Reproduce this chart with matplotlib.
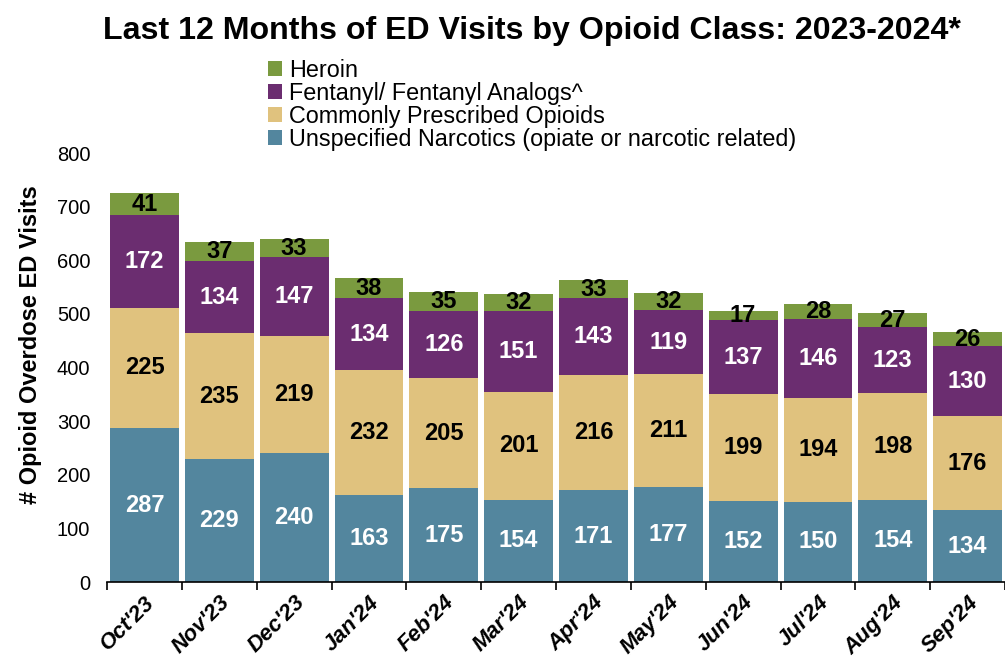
import matplotlib
matplotlib.use("Agg")
import matplotlib.pyplot as plt
import numpy as np
from matplotlib.patches import Patch

months = ["Oct'23", "Nov'23", "Dec'23", "Jan'24", "Feb'24", "Mar'24",
          "Apr'24", "May'24", "Jun'24", "Jul'24", "Aug'24", "Sep'24"]
unspecified = [287, 229, 240, 163, 175, 154, 171, 177, 152, 150, 154, 134]
prescribed = [225, 235, 219, 232, 205, 201, 216, 211, 199, 194, 198, 176]
fentanyl = [172, 134, 147, 134, 126, 151, 143, 119, 137, 146, 123, 130]
heroin = [41, 37, 33, 38, 35, 32, 33, 32, 17, 28, 27, 26]

series = [
    ("Unspecified Narcotics (opiate or narcotic related)", unspecified, "#53869E", "white"),
    ("Commonly Prescribed Opioids", prescribed, "#E0C27E", "black"),
    ("Fentanyl/ Fentanyl Analogs^", fentanyl, "#6B2D70", "white"),
    ("Heroin", heroin, "#7A9A3F", "black"),
]

plt.rcParams['font.family'] = ['Liberation Sans', 'DejaVu Sans']

fig = plt.figure(figsize=(10.05, 6.6), dpi=100)
ax = fig.add_axes([0.1065, 0.118, 0.8935, 0.650])

x = np.arange(len(months))
bottom = np.zeros(len(months))
handles = []
for name, vals, color, tcolor in series:
    vals = np.array(vals, dtype=float)
    ax.bar(x, vals, bottom=bottom, width=0.92, color=color, edgecolor='none')
    for xi, b, v in zip(x, bottom, vals):
        ax.text(xi, b + v / 2, f"{int(v)}", ha='center', va='center',
                color=tcolor, fontsize=17, fontweight='bold')
    bottom += vals
    handles.append(Patch(facecolor=color, edgecolor='none', label=name))

ax.set_xlim(-0.5, len(months) - 0.5)
ax.set_ylim(0, 800)
ax.set_yticks(np.arange(0, 801, 100))
ax.tick_params(axis='y', length=0, labelsize=14.5, pad=12)
ax.set_xticks(x)
ax.set_xticklabels(months, rotation=45, ha='right', rotation_mode='anchor',
                   fontsize=16, fontweight='bold', fontstyle='italic')
ax.tick_params(axis='x', which='major', length=0, pad=7)
ax.set_xticks(np.arange(-0.5, len(months), 1.0), minor=True)
ax.tick_params(axis='x', which='minor', length=6, width=1.2, direction='out')
for s in ['top', 'right', 'left']:
    ax.spines[s].set_visible(False)
ax.spines['bottom'].set_linewidth(1.2)

fig.text(31 / 1005, 1 - 345 / 660, "# Opioid Overdose ED Visits", rotation=90,
         ha='center', va='center', fontsize=17, fontweight='bold')

title = fig.text(532 / 1005, 1 - 31 / 660,
                 "Last 12 Months of ED Visits by Opioid Class: 2023-2024*",
                 ha='center', va='center', fontsize=30, fontweight='bold')
# shrink title to fit the reference width (~855 px)
fig.canvas.draw()
w = title.get_window_extent(fig.canvas.get_renderer()).width
if w > 860:
    title.set_fontsize(30 * 860 / w)

fig.legend(handles=handles[::-1], loc='upper left',
           bbox_to_anchor=(268 / 1005, 1 - 59 / 660), frameon=False,
           fontsize=16.8, handlelength=0.6, handleheight=0.6,
           handletextpad=0.3, labelspacing=0.0, borderpad=0, borderaxespad=0)

fig.savefig("out.png", dpi=100)
